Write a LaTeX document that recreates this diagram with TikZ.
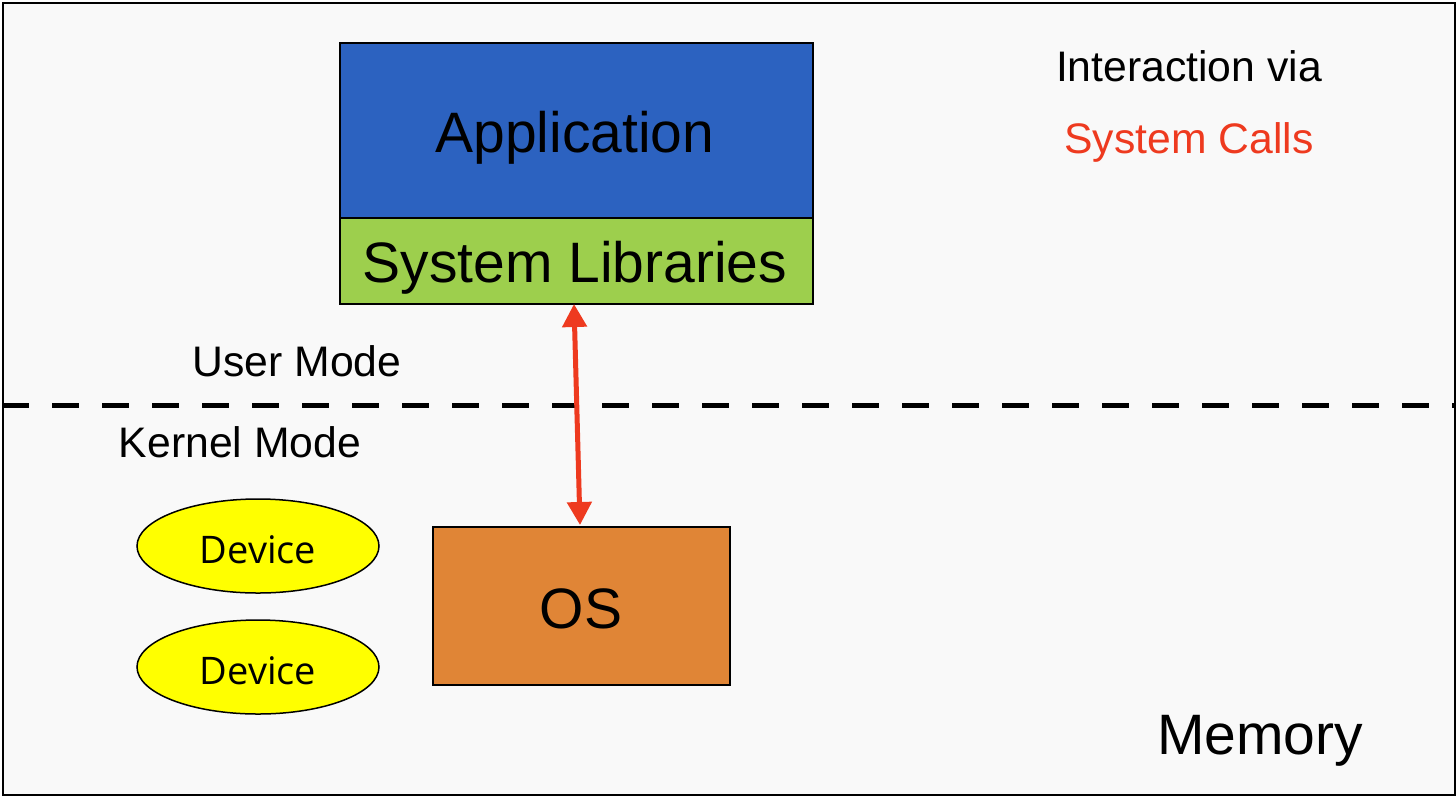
\documentclass[tikz,border=0pt]{standalone}
\usepackage{fontspec}
\setmainfont{Liberation Sans}
\newfontfamily\devfont{Open Sans}
\usetikzlibrary{arrows.meta,shapes.geometric}
\definecolor{bgc}{HTML}{F9F9F9}
\definecolor{appc}{HTML}{2C62C0}
\definecolor{libc}{HTML}{9DCF4D}
\definecolor{osc}{HTML}{E08536}
\definecolor{devc}{HTML}{FFFF00}
\definecolor{redc}{HTML}{EE3A1F}
\tikzset{
  boxst/.style={draw=black, line width=1.5pt, inner sep=0pt, anchor=north west},
  lbl/.style={inner sep=0pt, font=\fontsize{42.7}{50}\selectfont},
  big/.style={inner sep=0pt, font=\fontsize{57}{68}\selectfont},
  devst/.style={ellipse, draw=black, line width=1.5pt, fill=devc, minimum width=242pt, minimum height=94pt, inner sep=0pt},
  devtxt/.style={inner sep=0pt, font=\devfont\fontsize{38}{44}\selectfont},
}
\begin{document}
\begin{tikzpicture}[x=1pt,y=-1pt]
\useasboundingbox (0,0) rectangle (1456,796);
\node[boxst, fill=bgc, minimum width=1452pt, minimum height=792pt] (frame) at (2,2) {};
\node[boxst, fill=appc, minimum width=473pt, minimum height=175pt] (app) at (339,42) {};
\node[big] (apptxt) at (575,138) {Application};
\node[boxst, fill=libc, minimum width=473pt, minimum height=86pt] (lib) at (339,217) {};
\node[big] (libtxt) at (575,268) {System Libraries};
\node[boxst, fill=osc, minimum width=297pt, minimum height=158pt] (os) at (432,526) {};
\node[big] (ostxt) at (581,609) {OS};
\node[devst] (d1) at (258,546) {};
\node[devtxt] (d1t) at (258,550) {Device};
\node[devst] (d2) at (258,667) {};
\node[devtxt] (d2t) at (258,671) {Device};
\coordinate (dl) at (2,405);
\coordinate (dr) at (1454,405);
\draw[line width=5pt, dash pattern=on 27pt off 23pt] (dl) -- (dr);
\node[lbl] (um) at (297,361) {User Mode};
\node[lbl] (km) at (240,442) {Kernel Mode};
\node[lbl] (iv) at (1189,66) {Interaction via};
\node[lbl, text=redc] (sc) at (1189,142) {System Calls};
\node[big] (mem) at (1260,741) {Memory};
\coordinate (at) at (574,304);
\coordinate (ab) at (580,525);
\draw[redc, line width=5pt, {Triangle[width=24pt,length=23pt]}-{Triangle[width=24pt,length=23pt]}] (at) -- (ab);
\end{tikzpicture}
\end{document}
